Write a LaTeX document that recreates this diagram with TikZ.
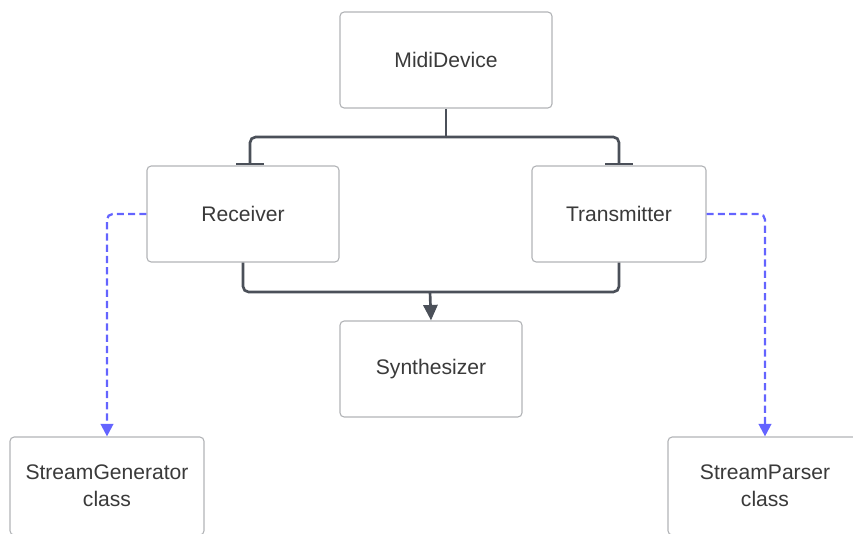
\documentclass[tikz,border=0pt]{standalone}
\usepackage{fontspec}
\setmainfont{Liberation Sans}
\usetikzlibrary{arrows.meta, positioning}
\definecolor{boxgray}{HTML}{B3B5B8}
\definecolor{linegray}{HTML}{4B5059}
\definecolor{depblue}{HTML}{6464FF}
\definecolor{textgray}{HTML}{3A3A3A}

\begin{document}
\begin{tikzpicture}[x=0.025cm, y=-0.025cm,
    block/.style={draw=boxgray, line width=0.8pt, rounded corners=3pt, fill=white,
        align=center, text=textgray, font=\fontsize{15}{19}\selectfont, minimum height=2.4cm},
    link/.style={draw=linegray, line width=1.9pt, rounded corners=4pt},
    depend/.style={draw=depblue, line width=1.6pt, rounded corners=4pt, dash pattern=on 5pt off 3pt,
        -{Triangle[width=9pt, length=9pt]}}]
    \clip (0,0) rectangle (853,533);

    % Boxes
    \node[block, minimum width=5.3cm] (midi) at (446,60) {MidiDevice};
    \node[block, minimum width=4.8cm] (recv) at (243,214) {Receiver};
    \node[block, minimum width=4.35cm] (trans) at (619,214) {Transmitter};
    \node[block, minimum width=4.55cm] (synth) at (431,369) {Synthesizer};
    \node[block, minimum width=4.85cm, minimum height=2.45cm] (gen) at (107,486) {StreamGenerator\\class};
    \node[block, minimum width=4.85cm, minimum height=2.45cm] (parser) at (765,486) {StreamParser\\class};

    % MidiDevice splits into receiver and transmitter
    \coordinate (split) at (446,137);
    \draw[link] (midi.south) -- (split);
    \draw[link, -{Bar[width=20pt]}] (split) -| ([xshift=0.175cm]recv.north);
    \draw[link, -{Bar[width=20pt]}] (split) -| (trans.north);

    % Both feed the synthesizer
    \coordinate (join) at (430,292);
    \draw[link] (recv.south) |- (join) -| (trans.south);
    \draw[link, -{Triangle[width=10pt, length=11pt]}] (join) -- (synth.north);

    % Stream classes
    \draw[depend] (recv.west) -| (gen.north);
    \draw[depend] (trans.east) -| (parser.north);
\end{tikzpicture}
\end{document}
